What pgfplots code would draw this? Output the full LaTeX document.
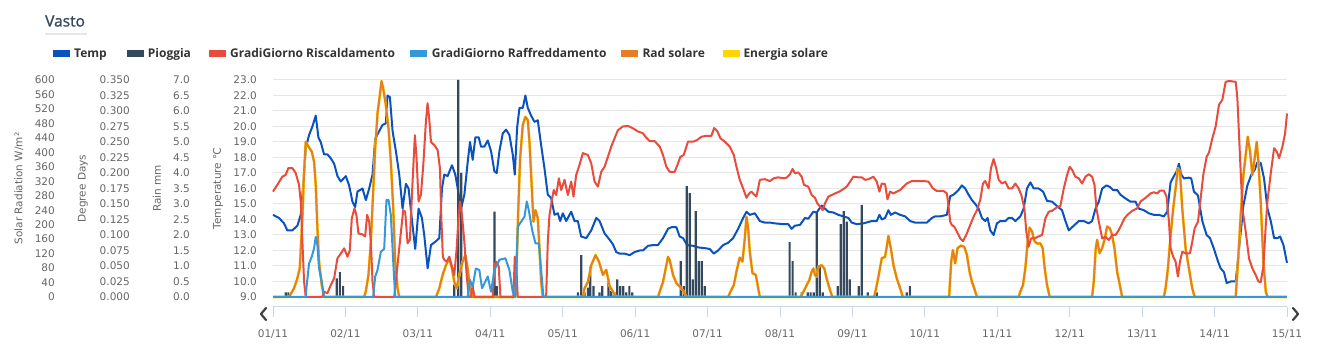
\documentclass[border=0pt]{standalone}
\usepackage{fontspec}
\usepackage{pgfplots}
\usepackage{pgfplotstable}
\pgfplotsset{compat=1.18}
\setmainfont{DejaVu Sans}
\newfontfamily\tickfont{DejaVu Sans}
\newfontfamily\legfont{Open Sans}
\newfontfamily\titlefont{Open Sans}[FakeBold=1.2]
\definecolor{tempc}{HTML}{0A52BD}
\definecolor{rainc}{HTML}{34495E}
\definecolor{heatc}{HTML}{E74C3C}
\definecolor{coolc}{HTML}{3498DB}
\definecolor{radc}{HTML}{E67E22}
\definecolor{enc}{HTML}{FFD700}
\definecolor{gridc}{HTML}{E6E6E6}
\definecolor{tickgray}{HTML}{666666}
\definecolor{axc}{HTML}{CCD6EB}
\definecolor{legtext}{HTML}{333333}
\definecolor{titlec}{HTML}{34495E}

\pgfplotsset{
  layer/.style={at={(273pt,50pt)}, anchor=south west, scale only axis,
    width=1014pt, height=217pt, xmin=0, xmax=14,
    axis line style={draw=none}, xtick=\empty, major tick length=0pt,
    tick style={draw=none},
    /pgf/number format/assume math mode=true,
    yticklabel pos=left,
    tick label style={font=\tickfont\fontsize{10.5}{12}\selectfont, text=tickgray},
    label style={font=\tickfont\fontsize{10.5}{12}\selectfont, text=tickgray},
    clip=false},
}

\pgfplotstableread[row sep=\\]{
x y\\
0 0\\ 0.221 0\\ 0.290 24\\ 0.336 51\\ 0.369 79\\ 0.406 218\\ 0.429 347\\ 0.452 429\\ 0.489 416\\ 0.535 402\\ 0.567 374\\ 0.590 310\\ 0.613 190\\ 0.636 98\\ 0.673 33\\ 0.705 0\\
1.258 0\\ 1.281 15\\ 1.318 61\\ 1.351 153\\ 1.383 291\\ 1.411 411\\ 1.443 508\\ 1.475 558\\ 1.498 597\\ 1.521 577\\ 1.558 531\\ 1.595 466\\ 1.627 374\\ 1.660 245\\ 1.687 98\\ 1.720 24\\ 1.743 0\\
2.25 0\\ 2.296 24\\ 2.342 61\\ 2.388 88\\ 2.434 107\\ 2.471 79\\ 2.503 42\\ 2.536 24\\ 2.573 61\\ 2.619 98\\ 2.656 116\\ 2.688 79\\ 2.720 24\\ 2.748 0\\
3.347 0\\ 3.366 98\\ 3.384 227\\ 3.412 384\\ 3.449 476\\ 3.485 498\\ 3.518 489\\ 3.541 429\\ 3.569 319\\ 3.596 208\\ 3.624 240\\ 3.656 218\\ 3.679 135\\ 3.702 42\\ 3.725 0\\
4.278 0\\ 4.301 24\\ 4.348 42\\ 4.394 88\\ 4.454 116\\ 4.500 98\\ 4.555 61\\ 4.601 75\\ 4.647 31\\ 4.693 15\\ 4.739 0\\
5.316 0\\ 5.339 15\\ 5.385 42\\ 5.422 79\\ 5.454 111\\ 5.477 102\\ 5.523 61\\ 5.569 38\\ 5.615 29\\ 5.671 15\\ 5.707 0\\
6.284 0\\ 6.316 15\\ 6.362 33\\ 6.408 79\\ 6.445 109\\ 6.482 98\\ 6.514 162\\ 6.537 222\\ 6.560 190\\ 6.583 125\\ 6.620 66\\ 6.666 61\\ 6.699 24\\ 6.722 0\\
7.285 0\\ 7.312 10\\ 7.359 29\\ 7.405 47\\ 7.437 70\\ 7.460 79\\ 7.483 61\\ 7.506 56\\ 7.529 84\\ 7.575 88\\ 7.612 79\\ 7.644 51\\ 7.691 19\\ 7.723 0\\
8.299 0\\ 8.327 24\\ 8.359 56\\ 8.405 107\\ 8.451 111\\ 8.474 139\\ 8.497 169\\ 8.530 135\\ 8.567 88\\ 8.613 51\\ 8.659 24\\ 8.696 0\\
9.335 0\\ 9.364 98\\ 9.387 130\\ 9.419 93\\ 9.451 135\\ 9.498 142\\ 9.544 139\\ 9.581 116\\ 9.617 70\\ 9.650 42\\ 9.682 24\\ 9.719 0\\
10.295 0\\ 10.318 15\\ 10.355 33\\ 10.387 79\\ 10.420 153\\ 10.447 192\\ 10.480 181\\ 10.512 155\\ 10.549 148\\ 10.595 148\\ 10.627 135\\ 10.655 79\\ 10.687 33\\ 10.724 0\\
11.309 0\\ 11.332 42\\ 11.360 135\\ 11.379 158\\ 11.411 121\\ 11.448 135\\ 11.480 158\\ 11.517 195\\ 11.554 190\\ 11.586 171\\ 11.618 135\\ 11.655 70\\ 11.692 33\\ 11.724 0\\
12.300 0\\ 12.323 24\\ 12.356 79\\ 12.393 171\\ 12.429 245\\ 12.462 300\\ 12.494 356\\ 12.522 347\\ 12.554 245\\ 12.600 135\\ 12.646 79\\ 12.692 24\\ 12.725 0\\
13.292 0\\ 13.324 98\\ 13.361 227\\ 13.398 337\\ 13.430 393\\ 13.458 443\\ 13.490 402\\ 13.522 337\\ 13.554 384\\ 13.582 429\\ 13.605 374\\ 13.637 264\\ 13.674 98\\ 13.707 15\\ 13.730 0\\ 14 0\\
}\solar

\begin{document}
\begin{tikzpicture}
\path[use as bounding box] (0pt,0pt) rectangle (1335pt,347pt);

% ---- Temperature axis (with grid) ----
\begin{axis}[layer, ymin=9, ymax=23, ytick={9,10,...,23},
  ymajorgrids, grid style={draw=gridc, line width=1pt},
  yticklabel={\pgfmathprintnumber[fixed,fixed zerofill,precision=1]{\tick}},
  yticklabel style={anchor=east, inner sep=0pt, xshift=-16pt},
  ylabel={Temperature ℃},
  ylabel style={at={(axis description cs:-0.05424,0.5)}, anchor=center}]
\addplot[tempc, line width=2pt, line join=round] coordinates {
(0,14.3)(0.083,14.1)(0.152,13.75)(0.198,13.3)(0.267,13.3)(0.337,13.6)(0.383,14.3)(0.429,16.9)(0.452,18.6)(0.498,19.45)(0.544,20.0)(0.590,20.7)(0.627,19.3)(0.659,19.0)(0.705,18.2)(0.751,18.2)(0.798,17.95)(0.844,17.6)(0.890,16.8)(0.936,16.45)(1.005,16.8)(1.051,16.2)(1.097,15.15)(1.134,14.8)(1.166,15.8)(1.236,16.0)(1.282,15.25)(1.328,16.0)(1.374,16.9)(1.411,19.2)(1.466,19.7)(1.512,20.1)(1.558,20.2)(1.581,22.0)(1.614,21.9)(1.651,19.7)(1.697,18.4)(1.743,16.9)(1.789,14.7)(1.835,16.3)(1.872,16.0)(1.927,13.6)(1.964,12.1)(2.010,14.7)(2.056,14.1)(2.088,13.0)(2.135,10.85)(2.181,12.35)(2.250,12.6)(2.296,12.8)(2.333,16.0)(2.365,16.9)(2.411,16.8)(2.471,17.5)(2.517,16.9)(2.550,16.0)(2.596,14.7)(2.642,15.6)(2.688,17.7)(2.720,19.0)(2.757,17.85)(2.794,19.3)(2.840,19.3)(2.872,18.7)(2.918,18.7)(2.965,19.1)(3.011,18.4)(3.057,17.1)(3.089,17.0)(3.126,18.4)(3.172,19.55)(3.218,19.8)(3.264,19.45)(3.310,18.2)(3.338,16.9)(3.370,19.9)(3.403,21.2)(3.449,21.2)(3.485,22.0)(3.518,21.2)(3.564,20.7)(3.610,20.3)(3.656,20.4)(3.702,18.8)(3.748,17.3)(3.794,15.6)(3.840,15.4)(3.887,14.3)(3.933,14.4)(3.965,13.9)(4.002,14.4)(4.048,13.9)(4.117,14.5)(4.163,13.9)(4.209,13.9)(4.255,12.9)(4.325,12.8)(4.394,13.3)(4.463,14.1)(4.509,13.9)(4.578,13.1)(4.647,12.7)(4.693,12.4)(4.739,11.9)(4.785,11.8)(4.854,11.8)(4.924,11.7)(4.993,11.9)(5.062,12.0)(5.108,12.0)(5.177,12.3)(5.246,12.35)(5.316,12.35)(5.385,12.8)(5.454,13.4)(5.500,13.5)(5.569,13.5)(5.615,12.9)(5.661,12.8)(5.717,12.35)(5.800,12.3)(5.869,12.2)(5.961,12.15)(6.030,12.1)(6.085,11.8)(6.145,12.0)(6.215,12.35)(6.284,12.5)(6.353,12.8)(6.422,13.4)(6.491,14.1)(6.537,14.5)(6.583,14.3)(6.653,14.4)(6.722,13.9)(6.791,13.8)(6.860,13.8)(6.929,13.75)(7.044,13.7)(7.114,13.7)(7.160,13.4)(7.206,13.6)(7.276,13.65)(7.345,14.1)(7.391,14.05)(7.460,14.5)(7.506,14.45)(7.575,14.9)(7.621,14.7)(7.668,14.5)(7.737,14.45)(7.806,14.3)(7.875,14.2)(7.944,14.1)(7.990,13.8)(8.059,13.7)(8.152,13.75)(8.267,13.9)(8.336,13.9)(8.373,14.3)(8.405,14.0)(8.451,14.1)(8.497,14.6)(8.530,14.3)(8.590,14.45)(8.659,14.3)(8.728,14.2)(8.797,13.9)(8.866,13.8)(8.935,13.8)(9.028,13.8)(9.097,14.1)(9.143,14.2)(9.212,14.2)(9.304,14.3)(9.350,15.5)(9.396,15.6)(9.419,15.7)(9.465,15.9)(9.511,16.2)(9.557,16.0)(9.604,15.6)(9.650,15.25)(9.696,15.0)(9.742,14.7)(9.788,14.1)(9.834,13.9)(9.866,14.1)(9.903,13.3)(9.949,13.0)(9.995,13.75)(10.042,13.9)(10.111,13.9)(10.157,14.1)(10.203,14.1)(10.249,13.9)(10.318,14.2)(10.364,14.7)(10.410,16.0)(10.457,16.4)(10.503,16.0)(10.572,16.0)(10.632,15.8)(10.687,15.2)(10.756,15.15)(10.816,14.9)(10.894,14.6)(10.941,13.9)(10.987,13.3)(11.056,13.6)(11.125,13.9)(11.194,13.9)(11.263,13.75)(11.309,13.9)(11.356,14.7)(11.402,15.15)(11.448,16.0)(11.508,16.2)(11.554,16.1)(11.600,15.9)(11.655,15.9)(11.701,15.6)(11.757,15.4)(11.839,15.15)(11.908,15.15)(11.955,14.7)(12.024,14.6)(12.093,14.4)(12.162,14.3)(12.231,14.3)(12.300,14.2)(12.346,14.5)(12.393,16.4)(12.439,16.8)(12.476,17.1)(12.508,17.6)(12.540,16.9)(12.577,16.65)(12.646,16.7)(12.678,16.65)(12.715,15.8)(12.771,15.55)(12.831,13.9)(12.890,13.0)(12.937,12.8)(12.992,12.1)(13.047,11.3)(13.084,10.85)(13.130,10.6)(13.167,9.9)(13.222,10.0)(13.292,10.0)(13.338,12.1)(13.398,14.9)(13.453,16.2)(13.508,16.9)(13.554,17.2)(13.591,17.7)(13.637,17.65)(13.683,16.65)(13.730,14.7)(13.776,13.9)(13.822,12.8)(13.868,12.8)(13.905,12.9)(13.951,12.35)(14.0,11.2)};
\end{axis}

% ---- Rain axis ----
\begin{axis}[layer, ymin=0, ymax=7, ytick={0,0.5,...,7},
  yticklabel={\pgfmathprintnumber[fixed,fixed zerofill,precision=1]{\tick}},
  yticklabel style={anchor=east, inner sep=0pt, xshift=-83pt},
  ylabel={Rain mm},
  ylabel style={at={(axis description cs:-0.1144,0.5)}, anchor=center}]
\addplot[ybar, bar width=2.2pt, fill=rainc, draw=none] coordinates {
(0.176,0.15)(0.212,0.15)(0.881,0.6)(0.923,0.8)(0.968,0.35)(2.503,0.4)(2.559,7.0)(2.600,4.0)(3.057,2.75)(3.089,0.35)(4.209,0.15)(4.256,1.35)(4.302,0.15)(4.348,0.3)(4.381,0.98)(4.426,0.35)(4.509,0.15)(4.546,0.35)(4.633,0.57)(4.671,0.2)(4.716,0.15)(4.754,0.57)(4.795,0.35)(4.837,0.35)(4.878,0.15)(4.920,0.35)(4.961,0.15)(5.629,1.16)(5.671,0.35)(5.712,3.58)(5.754,3.35)(5.795,0.57)(5.837,2.77)(5.878,1.16)(5.920,1.16)(5.961,0.35)(7.133,1.77)(7.174,1.16)(7.216,0.15)(7.299,0.15)(7.382,0.15)(7.423,0.15)(7.465,0.15)(7.506,2.72)(7.548,1.03)(7.589,0.15)(7.797,0.35)(7.838,2.35)(7.880,2.77)(7.921,2.43)(7.963,0.57)(8.087,0.35)(8.129,2.97)(8.212,0.15)(8.336,0.15)(8.751,0.15)(8.793,0.35)};
\end{axis}

% ---- Solar axis ----
\begin{axis}[layer, ymin=0, ymax=600, ytick={0,40,...,600},
  yticklabel={\pgfmathprintnumber[fixed,precision=0]{\tick}},
  yticklabel style={anchor=east, inner sep=0pt, xshift=-218pt},
  ylabel={Solar Radiation W/m²},
  ylabel style={at={(axis description cs:-0.2505,0.5)}, anchor=center}]
\addplot[enc, line width=2.6pt, line join=round] table {\solar};
\addplot[radc, line width=2pt, line join=round] table {\solar};
\end{axis}

% ---- Degree days axis ----
\begin{axis}[layer, ymin=0, ymax=0.35,
  ytick={0,0.025,0.05,0.075,0.1,0.125,0.15,0.175,0.2,0.225,0.25,0.275,0.3,0.325,0.35},
  yticklabel={\pgfmathprintnumber[fixed,fixed zerofill,precision=3]{\tick}},
  yticklabel style={anchor=east, inner sep=0pt, xshift=-143pt},
  ylabel={Degree Days},
  ylabel style={at={(axis description cs:-0.1874,0.5)}, anchor=center}]
\addplot[heatc, line width=2pt, line join=round] coordinates {
(0,0.170)(0.060,0.181)(0.129,0.194)(0.175,0.197)(0.212,0.208)(0.267,0.208)(0.313,0.200)(0.359,0.181)(0.383,0.154)(0.406,0.089)(0.429,0.025)(0.452,0)(0.682,0)(0.705,0.0085)(0.751,0.006)(0.797,0.019)(0.844,0.030)(0.890,0.0625)(0.936,0.070)(0.982,0.0785)(1.028,0.065)(1.060,0.075)(1.088,0.127)(1.125,0.143)(1.152,0.132)(1.180,0.1025)(1.235,0.101)(1.272,0.0975)(1.300,0.1325)(1.328,0.1215)(1.351,0.089)(1.374,0.025)(1.397,0)(1.674,0)(1.696,0.025)(1.752,0.089)(1.798,0.140)(1.825,0.1375)(1.858,0.0865)(1.890,0.092)(1.927,0.186)(1.959,0.261)(1.982,0.224)(2.010,0.154)(2.042,0.1645)(2.075,0.213)(2.111,0.2825)(2.134,0.3125)(2.157,0.2875)(2.181,0.250)(2.227,0.245)(2.273,0.237)(2.305,0.2075)(2.325,0.125)(2.345,0.065)(2.365,0.060)(2.397,0.057)(2.434,0.065)(2.471,0.049)(2.503,0.0355)(2.536,0.0785)(2.563,0.132)(2.582,0.154)(2.609,0.132)(2.642,0.089)(2.674,0.0355)(2.702,0)(2.734,0)(2.757,0.019)(2.780,0)(3.034,0)(3.057,0.0515)(3.080,0.057)(3.117,0.049)(3.140,0)(3.319,0)(3.338,0.065)(3.356,0.057)(3.379,0)(3.771,0)(3.794,0.089)(3.817,0.132)(3.854,0.159)(3.877,0.1725)(3.910,0.1645)(3.947,0.1915)(3.979,0.1725)(4.025,0.189)(4.071,0.1645)(4.117,0.186)(4.149,0.162)(4.186,0.197)(4.232,0.213)(4.278,0.232)(4.348,0.229)(4.394,0.2155)(4.440,0.186)(4.486,0.178)(4.532,0.202)(4.578,0.210)(4.624,0.226)(4.670,0.2425)(4.716,0.256)(4.762,0.269)(4.831,0.275)(4.901,0.276)(4.970,0.272)(5.039,0.267)(5.108,0.264)(5.154,0.257)(5.200,0.2515)(5.269,0.2515)(5.339,0.2425)(5.385,0.229)(5.431,0.210)(5.477,0.202)(5.546,0.202)(5.592,0.2155)(5.624,0.226)(5.670,0.229)(5.730,0.2505)(5.800,0.2505)(5.855,0.253)(5.915,0.2585)(5.984,0.260)(6.053,0.260)(6.090,0.2725)(6.132,0.268)(6.178,0.256)(6.238,0.2505)(6.307,0.2425)(6.362,0.229)(6.399,0.210)(6.445,0.189)(6.491,0.175)(6.537,0.160)(6.574,0.167)(6.606,0.170)(6.639,0.1655)(6.675,0.162)(6.722,0.189)(6.791,0.190)(6.860,0.187)(6.915,0.1915)(6.975,0.193)(7.044,0.1915)(7.091,0.1925)(7.137,0.198)(7.174,0.2065)(7.206,0.1995)(7.253,0.201)(7.299,0.194)(7.331,0.181)(7.391,0.178)(7.437,0.1645)(7.483,0.160)(7.515,0.151)(7.552,0.146)(7.589,0.140)(7.621,0.151)(7.668,0.162)(7.714,0.1645)(7.760,0.167)(7.820,0.170)(7.875,0.174)(7.921,0.178)(7.967,0.186)(8.013,0.194)(8.082,0.193)(8.129,0.193)(8.175,0.189)(8.221,0.190)(8.290,0.194)(8.336,0.186)(8.373,0.170)(8.405,0.183)(8.451,0.182)(8.484,0.1575)(8.520,0.170)(8.567,0.167)(8.613,0.170)(8.659,0.1725)(8.705,0.178)(8.751,0.183)(8.820,0.187)(8.889,0.187)(8.981,0.187)(9.051,0.186)(9.111,0.175)(9.166,0.171)(9.258,0.171)(9.304,0.167)(9.327,0.146)(9.350,0.1215)(9.373,0.116)(9.406,0.1135)(9.442,0.1055)(9.488,0.0945)(9.525,0.090)(9.571,0.100)(9.617,0.1135)(9.673,0.1295)(9.719,0.140)(9.765,0.1565)(9.802,0.183)(9.834,0.187)(9.880,0.175)(9.912,0.2075)(9.949,0.2225)(9.986,0.2075)(10.019,0.189)(10.065,0.183)(10.111,0.186)(10.157,0.175)(10.203,0.175)(10.249,0.183)(10.295,0.175)(10.332,0.1645)(10.374,0.143)(10.401,0.1055)(10.433,0.081)(10.466,0.0945)(10.512,0.0945)(10.558,0.097)(10.618,0.100)(10.664,0.127)(10.710,0.1375)(10.756,0.139)(10.816,0.144)(10.871,0.147)(10.918,0.175)(10.964,0.197)(11.000,0.210)(11.033,0.205)(11.079,0.194)(11.125,0.1915)(11.171,0.183)(11.217,0.194)(11.263,0.198)(11.309,0.194)(11.342,0.181)(11.369,0.143)(11.402,0.1215)(11.448,0.0945)(11.494,0.097)(11.540,0.092)(11.586,0.100)(11.632,0.100)(11.678,0.108)(11.724,0.119)(11.757,0.127)(11.793,0.132)(11.862,0.139)(11.932,0.143)(11.978,0.154)(12.047,0.160)(12.116,0.167)(12.162,0.169)(12.208,0.167)(12.245,0.1715)(12.300,0.1715)(12.337,0.162)(12.370,0.1215)(12.393,0.0785)(12.429,0.065)(12.462,0.057)(12.494,0.033)(12.522,0.057)(12.554,0.073)(12.600,0.0705)(12.660,0.0705)(12.692,0.089)(12.725,0.111)(12.771,0.1215)(12.808,0.159)(12.844,0.197)(12.890,0.226)(12.923,0.233)(12.969,0.256)(13.015,0.275)(13.061,0.310)(13.107,0.318)(13.153,0.347)(13.199,0.3485)(13.292,0.347)(13.315,0.3205)(13.352,0.224)(13.384,0.143)(13.430,0.1055)(13.476,0.062)(13.522,0.046)(13.568,0.0355)(13.605,0.025)(13.637,0.024)(13.674,0.049)(13.707,0.116)(13.730,0.154)(13.776,0.1995)(13.822,0.240)(13.859,0.2345)(13.891,0.224)(13.937,0.2425)(13.974,0.264)(14.0,0.296)};
\addplot[coolc, line width=2pt, line join=round] coordinates {
(0,0)(0.452,0)(0.461,0.014)(0.498,0.054)(0.535,0.065)(0.567,0.0785)(0.590,0.097)(0.613,0.084)(0.636,0.046)(0.673,0.025)(0.705,0)(1.383,0)(1.411,0.033)(1.443,0.0435)(1.489,0.073)(1.535,0.0775)(1.567,0.1565)(1.595,0.1565)(1.627,0.132)(1.660,0.057)(1.687,0)(2.688,0)(2.72,0.0275)(2.757,0.0165)(2.80,0.046)(2.849,0.0435)(2.886,0.014)(2.965,0.033)(3.011,0.0085)(3.057,0.0435)(3.126,0.060)(3.209,0.0625)(3.264,0.0435)(3.310,0.0085)(3.345,0)(3.380,0.1135)(3.426,0.1215)(3.472,0.1295)(3.504,0.154)(3.532,0.140)(3.578,0.108)(3.624,0.0865)(3.67,0.0865)(3.702,0.0435)(3.734,0)(14,0)};
\end{axis}

% ---- x axis (offset below plot) ----
\begin{axis}[at={(273pt,40pt)}, anchor=south west, scale only axis,
  width=1014pt, height=5pt, xmin=0, xmax=14, ymin=0, ymax=1,
  axis x line*=bottom, axis y line=none,
  x axis line style={draw=axc, line width=1pt, -},
  xtick={0,1,...,14},
  xticklabels={01/11,02/11,03/11,04/11,05/11,06/11,07/11,08/11,09/11,10/11,11/11,12/11,13/11,14/11,15/11},
  xtick align=outside, major tick length=10pt,
  tick style={draw=axc, line width=1pt},
  xticklabel style={font=\tickfont\fontsize{10.5}{12}\selectfont, text=tickgray, inner sep=0pt, anchor=north, yshift=-13pt}]
\end{axis}

% ---- navigator arrows ----
\draw[black!75, line width=2.2pt, line cap=round, line join=round] (266pt,39pt) -- (261pt,33pt) -- (266pt,27pt);
\draw[black!75, line width=2.2pt, line cap=round, line join=round] (1293pt,39pt) -- (1298pt,33pt) -- (1293pt,27pt);

% ---- title ----
\node[anchor=base west, inner sep=0pt, text=titlec, font=\titlefont\fontsize{15.5}{18}\selectfont] at (45pt,320.5pt) {Vasto};
\draw[gridc, line width=1.2pt] (45pt,313pt) -- (87pt,313pt);

% ---- legend ----
\begin{scope}[every node/.style={anchor=base west, inner sep=0pt, text=legtext, font=\legfont\bfseries\fontsize{12}{14}\selectfont}]
\fill[tempc] (53.3pt,289.7pt) rectangle (70.3pt,297pt);
\node at (74pt,289.5pt) {Temp};
\fill[rainc] (126.7pt,289.7pt) rectangle (143.7pt,297pt);
\node at (147.7pt,289.5pt) {Pioggia};
\fill[heatc] (209.3pt,289.7pt) rectangle (226.3pt,297pt);
\node at (230pt,289.5pt) {GradiGiorno Riscaldamento};
\fill[coolc] (410pt,289.7pt) rectangle (427pt,297pt);
\node at (431.7pt,289.5pt) {GradiGiorno Raffreddamento};
\fill[radc] (621pt,289.7pt) rectangle (638pt,297pt);
\node at (642.3pt,289.5pt) {Rad solare};
\fill[enc] (722.7pt,289.7pt) rectangle (739.7pt,297pt);
\node at (743.3pt,289.5pt) {Energia solare};
\end{scope}
\end{tikzpicture}
\end{document}
